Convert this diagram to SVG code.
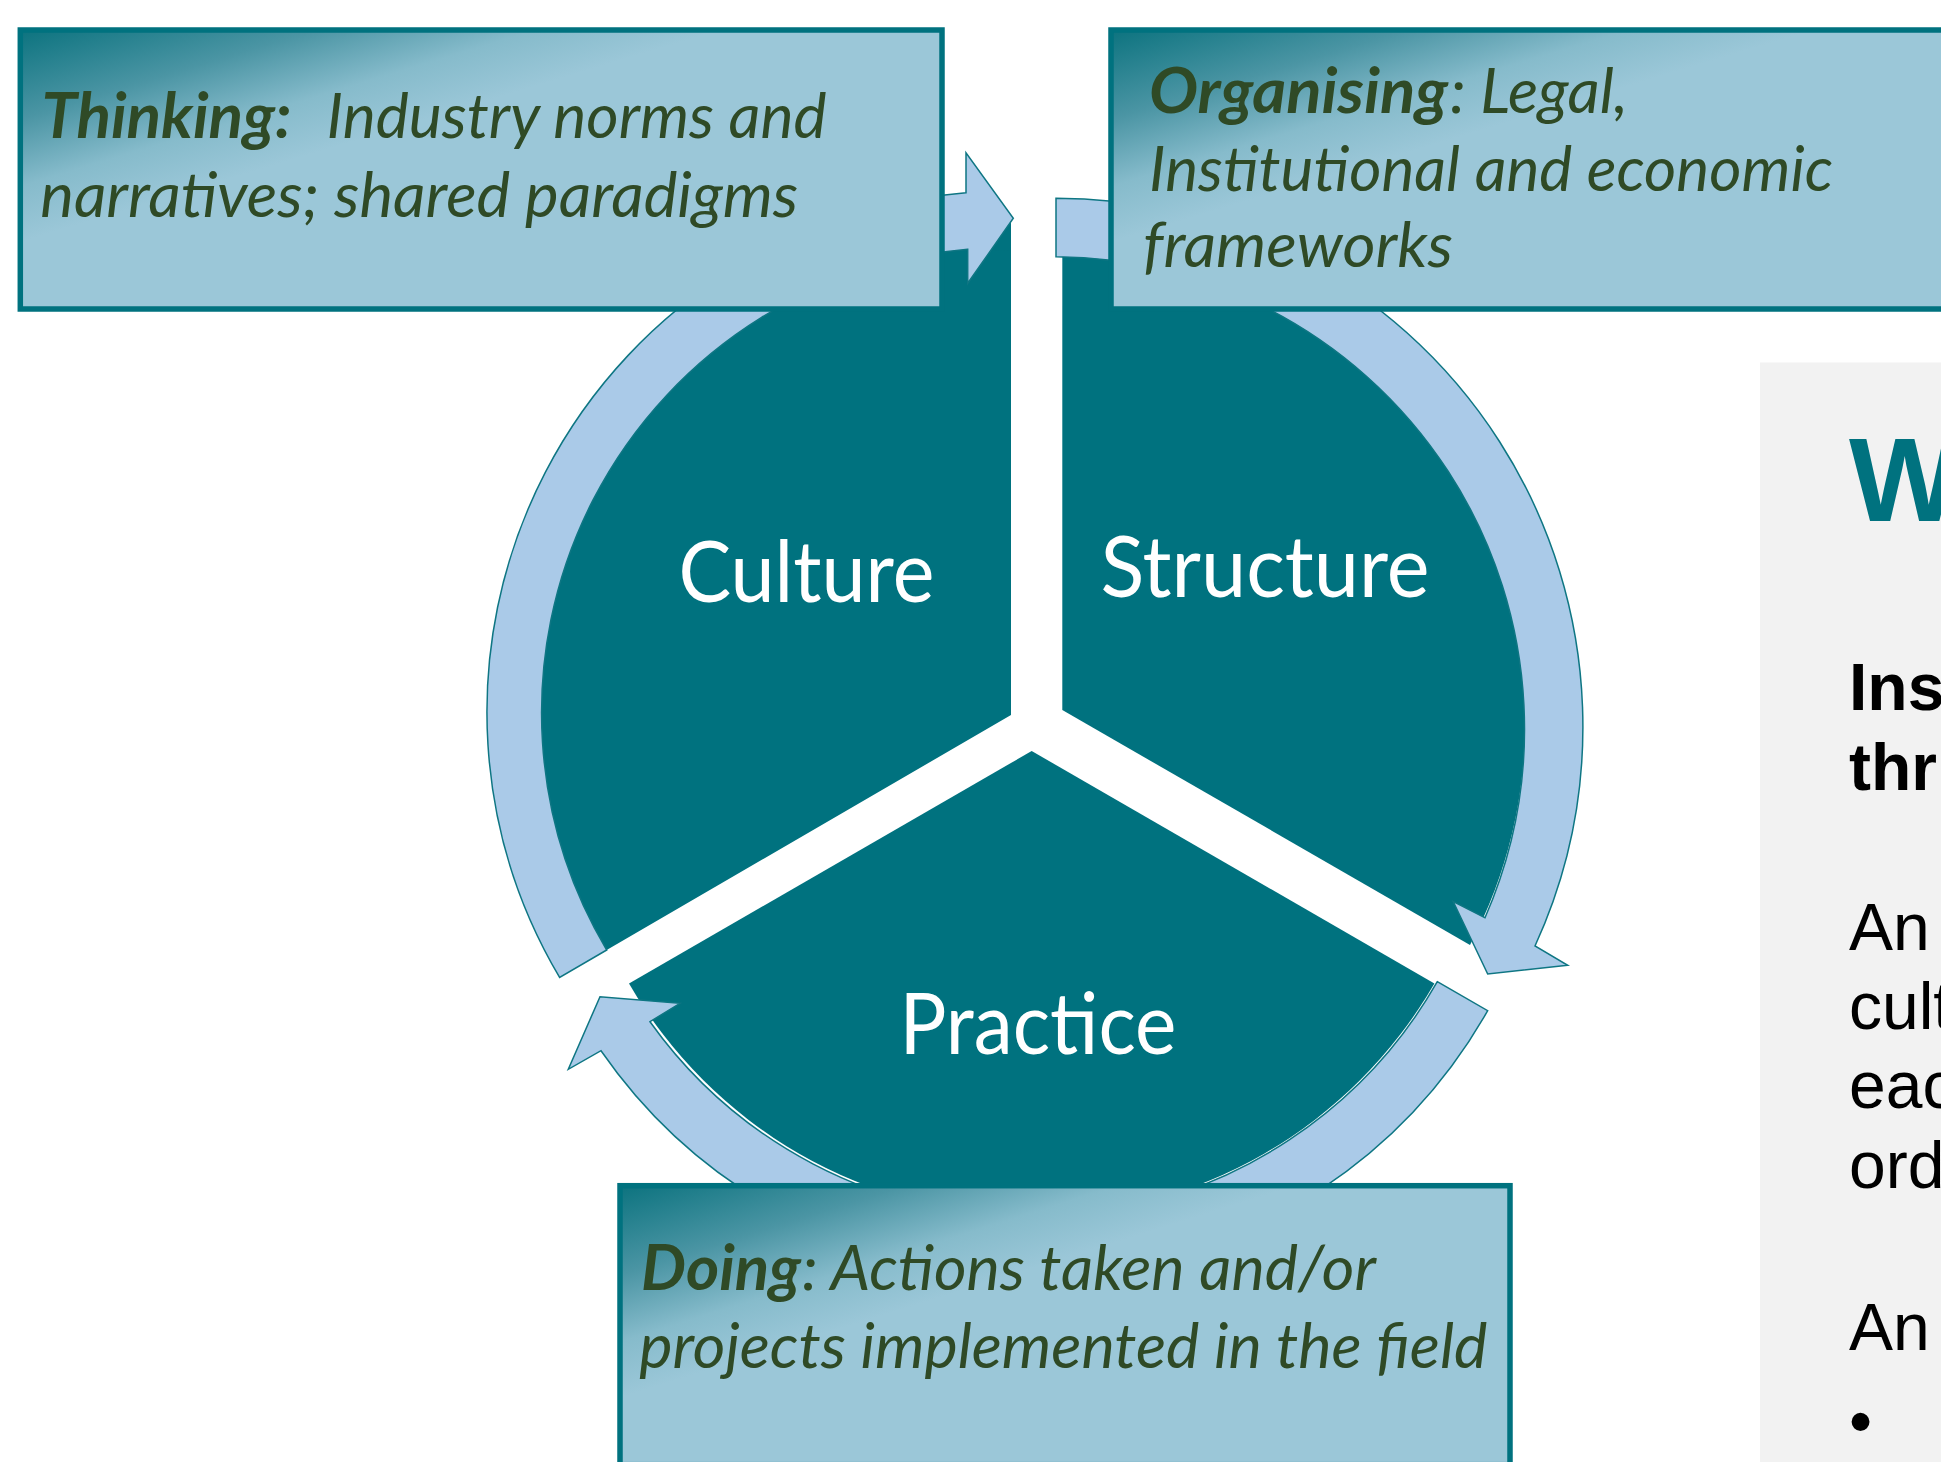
<svg xmlns="http://www.w3.org/2000/svg" width="1941" height="1462" viewBox="0 0 1941 1462">
<defs>
<linearGradient id="boxGrad" x1="0" y1="0" x2="1" y2="1">
<stop offset="0" stop-color="#0C737F"/>
<stop offset="0.16" stop-color="#4B95A4"/>
<stop offset="0.28" stop-color="#86BBCB"/>
<stop offset="0.38" stop-color="#9BC7D8"/>
<stop offset="1" stop-color="#9BC7D8"/>
</linearGradient>
<style>
.teal{fill:#00727F}
.arrow{fill:#AACAE8;stroke:#0E7683;stroke-width:1.5;stroke-linejoin:miter}
.box{fill:url(#boxGrad);stroke:#00727F;stroke-width:5.5}
.bt{font-family:Lato,"Open Sans",sans-serif;font-style:italic;fill:#2F4A26;font-size:63px}
.bb{font-weight:bold}
.pl{font-family:Lato,"Open Sans",sans-serif;fill:#FFFFFF;font-size:86px}
.rp{font-family:"Liberation Sans",Arial,sans-serif;fill:#000000;font-size:66px}
</style>
</defs>
<rect width="1941" height="1462" fill="#FFFFFF"/>
<g id="side-panel">
<rect x="1760" y="362.5" width="181" height="1100" fill="#F2F2F2"/>
<text class="rp" x="1849" y="521" style="font-size:118px;font-weight:bold;fill:#00727F">W</text>
<text class="rp" x="1849" y="710" font-weight="bold">Ins</text>
<text class="rp" x="1849" y="790" font-weight="bold">thr</text>
<text class="rp" x="1849" y="949.5">An</text>
<text class="rp" x="1849" y="1029">cult</text>
<text class="rp" x="1849" y="1108">eac</text>
<text class="rp" x="1849" y="1188">ord</text>
<text class="rp" x="1849" y="1350">An</text>
<text class="rp" x="1849" y="1444">•</text>
</g>
<g id="culture">
<path class="teal" d="M 1011 715 L 1011 247 A 465 465 0 0 0 606.7 950 Z"/>
<path class="teal" d="M 1011 250 L 1011 219 L 966 247 L 966 252 Z"/>
<text class="pl" x="678.4" y="601.6" textLength="256" lengthAdjust="spacingAndGlyphs">Culture</text>
</g>
<g id="structure">
<path class="teal" d="M 1062.3 710 L 1062.3 252 A 472 472 0 0 1 1470 945 Z"/>
<text class="pl" x="1100.5" y="596.7" textLength="329" lengthAdjust="spacingAndGlyphs">Structure</text>
</g>
<g id="practice">
<path class="teal" d="M 1031.7 751 L 629 983.5 A 465 465 0 0 0 1434.4 983.5 Z"/>
<text class="pl" x="899.5" y="1053.5" textLength="277" lengthAdjust="spacingAndGlyphs">Practice</text>
</g>
<g id="connectors">
<path class="arrow" d="M 606.7 950 L 559.6 977.4 A 521 521 0 0 1 966 192.7 L 966 152.7 L 1013.3 218.3 L 967.7 283.3 L 967.7 249.3 A 465 465 0 0 0 606.7 950 Z"/>
<path class="arrow" d="M 1056 198.3 A 528 528 0 0 1 1535 946 L 1567.7 965.3 L 1487.7 974 L 1453.3 901.7 L 1485 917.7 A 472 472 0 0 0 1056 256.7 Z"/>
<path class="arrow" d="M 1437.3 981.7 L 1487.7 1010.7 A 524 524 0 0 1 601 1050.7 L 568.3 1069.3 L 600 996.7 L 680 1003.3 L 650 1021.7 A 468 468 0 0 0 1437.3 981.7 Z"/>
</g>
<g id="thinking">
<rect class="box" x="20.3" y="30" width="921.7" height="279"/>
<text class="bt bb" x="41.5" y="138.3" textLength="250" lengthAdjust="spacingAndGlyphs">Thinking:</text>
<text class="bt" x="326.5" y="138.3" textLength="500" lengthAdjust="spacingAndGlyphs">Industry norms and</text>
<text class="bt" x="40.2" y="216.7" textLength="758" lengthAdjust="spacingAndGlyphs">narratives; shared paradigms</text>
</g>
<g id="organising">
<rect class="box" x="1111" y="30" width="925" height="279"/>
<text class="bt bb" x="1149" y="113.3" textLength="299" lengthAdjust="spacingAndGlyphs">Organising</text>
<text class="bt" x="1450" y="113.3" textLength="178" lengthAdjust="spacingAndGlyphs">: Legal,</text>
<text class="bt" x="1149" y="190.7" textLength="684" lengthAdjust="spacingAndGlyphs">Institutional and economic</text>
<text class="bt" x="1143" y="266.7" textLength="310" lengthAdjust="spacingAndGlyphs">frameworks</text>
</g>
<g id="doing">
<rect class="box" x="620" y="1185.7" width="890" height="279"/>
<text class="bt bb" x="641" y="1290" textLength="160" lengthAdjust="spacingAndGlyphs">Doing</text>
<text class="bt" x="802" y="1290" textLength="574" lengthAdjust="spacingAndGlyphs">: Actions taken and/or</text>
<text class="bt" x="639.3" y="1368.3" textLength="848" lengthAdjust="spacingAndGlyphs">projects implemented in the field</text>
</g>
</svg>
